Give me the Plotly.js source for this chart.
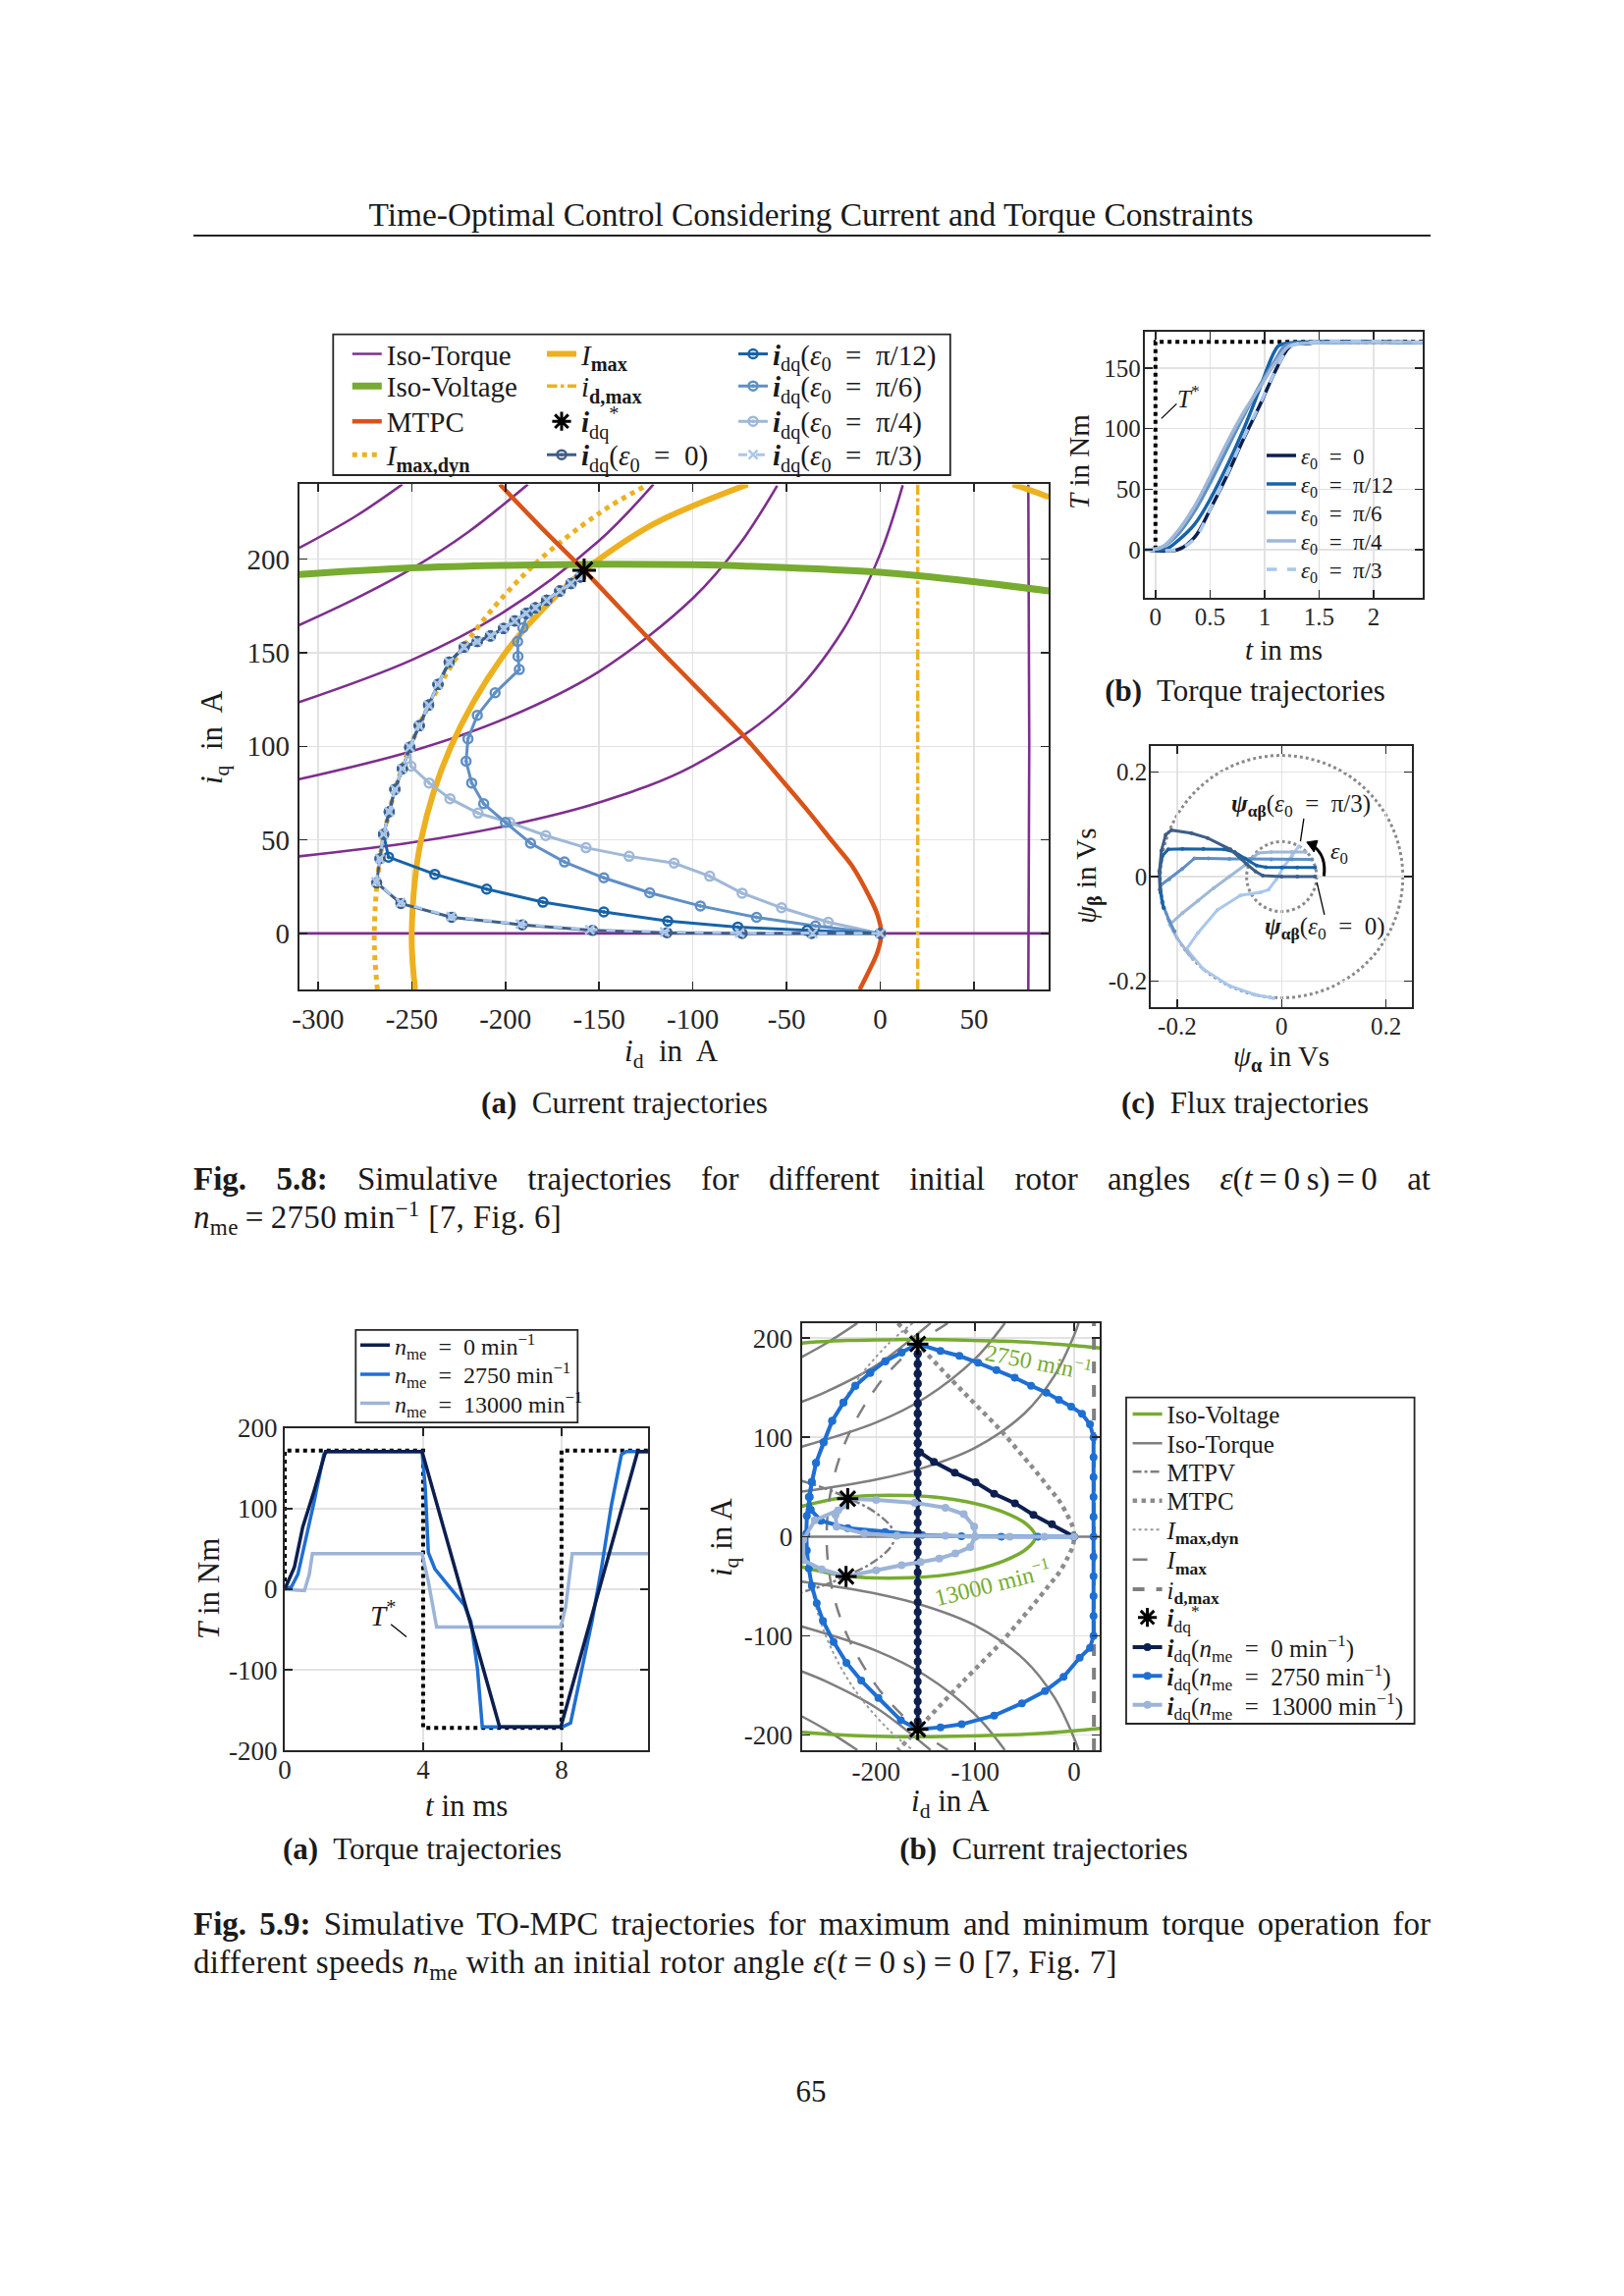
<!DOCTYPE html>
<html>
<head>
<meta charset="utf-8">
<script src="https://cdn.plot.ly/plotly-3.0.1.min.js"></script>
<style>
html,body{margin:0;padding:0;background:#fff;}
#page{position:relative;width:1654px;height:2339px;overflow:hidden;background:#fff;}
#chart{position:absolute;left:0;top:0;width:1654px;height:2339px;}
.t{position:absolute;font-family:"Liberation Serif","Times New Roman",serif;color:#1a1a1a;white-space:nowrap;line-height:1;z-index:5;}
.c{transform:translate(-50%,-50%);}
.l{transform:translate(0,-50%);}
.ls{letter-spacing:0.35px;}
.m{display:inline-block;word-spacing:0;}
sub,sup{font-size:70%;line-height:0;}
</style>
</head>
<body>
<div id="page">
<div id="chart"></div>
<div class="t c" style="left:826px;top:219px;font-size:33.4px;">Time-Optimal Control Considering Current and Torque Constraints</div>
<div style="position:absolute;left:197px;top:239px;width:1260px;height:2px;background:#222;z-index:5;"></div>
<div class="t c" style="left:1268px;top:703px;font-size:31px;"><b>(b)</b>&nbsp; Torque trajectories</div>
<div class="t c" style="left:636px;top:1123px;font-size:31px;"><b>(a)</b>&nbsp; Current trajectories</div>
<div class="t c" style="left:1268px;top:1123px;font-size:31px;"><b>(c)</b>&nbsp; Flux trajectories</div>
<div id="cap1" class="t l" style="left:197px;top:1201px;font-size:33px;"><b>Fig. 5.8:</b> Simulative trajectories for different initial rotor angles <span class="m"><i>ε</i>(<i>t</i>&#8201;=&#8201;0&#8201;s)&#8201;=&#8201;0</span> at</div>
<div class="t l ls" style="left:197px;top:1240px;font-size:33px;"><i>n</i><sub>me</sub>&#8201;=&#8201;2750&#8201;min<sup>−1</sup> [7, Fig. 6]</div>
<div class="t c" style="left:430px;top:1883px;font-size:31px;"><b>(a)</b>&nbsp; Torque trajectories</div>
<div class="t c" style="left:1063px;top:1883px;font-size:31px;"><b>(b)</b>&nbsp; Current trajectories</div>
<div id="cap2" class="t l" style="left:197px;top:1960px;font-size:33px;"><b>Fig. 5.9:</b> Simulative TO-MPC trajectories for maximum and minimum torque operation for</div>
<div class="t l ls" style="left:197px;top:1999px;font-size:33px;">different speeds <i>n</i><sub>me</sub> with an initial rotor angle <span class="m"><i>ε</i>(<i>t</i>&#8201;=&#8201;0&#8201;s)&#8201;=&#8201;0</span> [7, Fig. 7]</div>
<div class="t c" style="left:826px;top:2130px;font-size:31px;">65</div>
</div>
<script>
// ================= DATA =================
// ---- Fig. 5.8(a): current plane at 2750 min^-1 ----
const isoT1_id=[-310,-250,-200,-150,-100,-50,-20,0,12];
const isoT1_iq=[41.2,48.6,57.4,70.0,89.5,124.2,161.9,202.9,239.5];
const isoT2_id=[-310,-250,-200,-150,-100,-75,-55];
const isoT2_iq=[82.4,97.4,114.9,140.0,179.1,208.1,239.2];
const isoT3_id=[-310,-250,-200,-150,-121];
const isoT3_iq=[123.6,146.1,172.3,209.9,240];
const isoT4_id=[-310,-280,-250,-220,-188];
const isoT4_iq=[164.8,178.9,194.9,214.4,240];
const isoT5_id=[-310,-280,-255];
const isoT5_iq=[206,222.9,240];
const isoT0h_id=[-310,90];
const isoT0h_iq=[0,0];
const isoT0v_id=[79,79.5,79];
const isoT0v_iq=[-30,100,240];
const isoV_id=[-310,-250,-200,-150,-100,-50,0,50,90];
const isoV_iq=[191.8,195.3,196.7,197.3,197,195.5,193,188,183];
const mtpc_id=[-203,-180,-158,-123,-100,-73.7,-50,-39,-25,-15,-6,-1.5,0.6,-1.5,-6,-11];
const mtpc_iq=[240,216,194,157,133.5,106.5,79,66,48.5,36,20,10,0,-10,-20,-30];
const imaxL_id=[-248.2,-250,-245,-229,-200,-166,-150,-120,-70.7];
const imaxL_iq=[-30,0,50,100,150,187,200,219.3,240];
const imaxR_id=[70.7,80,90];
const imaxR_iq=[240,236.9,233.2];
const imaxDyn_id=[-268.3,-270,-265.3,-250.8,-223.6,-188,-150,-126.5];
const imaxDyn_iq=[-30,0,50,100,151.3,193.8,224.5,238.5];
const idmax_id=[20,20];
const idmax_iq=[-30,240];
const refA_id=[-158];
const refA_iq=[194];
// common upper part of the trajectories (along I_max,dyn towards the reference)
const upper_id=[-267,-265,-262,-259,-255,-251,-246,-241,-236,-230,-222,-215,-208,-201,-195,-189,-184,-178,-171,-165,-160];
const upper_iq=[40,53,65,77,88,99.5,111,122,133,145,153,156,159,163,167,171,174,178,183,187,190.5];
const tr0_id=[0,-36.7,-73.7,-113.8,-153.5,-191,-228.7,-255.8,-268.7];
const tr0_iq=[0,0,0,0.4,1.6,4.6,8.6,16,27];
const tr12_id=[0,-39,-76,-113.4,-147.5,-180,-210,-237.7,-262.4];
const tr12_iq=[0,1.6,3.4,6.6,11.5,16.7,23.7,31.6,40.8];
const tr6_id=[0,-34.6,-66,-96,-123,-147.5,-168.5,-186.6,-200,-211.6,-218,-221,-220,-215,-205.5,-192.6,-193.3,-193.5,-190.7,-188,-184,-178,-171,-165,-160];
const tr6_iq=[0,4,8.6,14.7,21.7,29.7,38.2,48.2,59.3,69.3,80.4,92,104,116.6,128.6,141,148,156,163.4,171.2,174,178,183,187,190.5];
const tr4_id=[0,-27.7,-52.7,-73.7,-91,-110,-134,-157,-178.5,-197.7,-214.6,-229.6,-240.7,-250.4,-251.3];
const tr4_iq=[0,6,13.7,21.5,30.6,37.6,41.2,45.8,52.3,59.3,64.3,72,80.4,89.4,99.5];
const tr3_id=[0,-36,-75,-115,-155,-192,-229,-256,-269];
const tr3_iq=[0,0,0.3,0.8,2,5,9,16.5,27.5];

// ---- Fig. 5.8(b): torque vs time ----
const tb_ref_t=[0,0,2.45];
const tb_ref_T=[0,172,172];
const tb_e0_t=[-0.1,0.21,0.36,0.51,0.66,0.81,0.955,1.10,1.22,1.28,1.40,1.46,2.45];
const tb_e0_T=[0,0,10.3,34.8,62,92,119,148,167,170.4,170.4,171.5,171.5];
const tb_p12_t=[-0.1,0.09,0.21,0.36,0.51,0.66,0.81,0.955,1.07,1.13,1.22,2.45];
const tb_p12_T=[0,0,7.6,21,43,70,100,133,160,168.8,171,171.5];
const tb_p6_t=[-0.1,0.06,0.21,0.36,0.51,0.66,0.81,0.955,1.10,1.19,1.28,2.45];
const tb_p6_T=[0,2,13,32,56.6,84,111,135.6,157,168.8,170.4,171.5];
const tb_p4_t=[-0.1,0.06,0.21,0.36,0.51,0.66,0.81,0.955,1.10,1.22,1.34,2.45];
const tb_p4_T=[0,2,15.8,36,62,89,113.8,134,154.6,168,170.4,171.5];
const tb_p3_t=[-0.1,0.2,0.36,0.51,0.66,0.81,0.955,1.10,1.22,1.30,2.45];
const tb_p3_T=[0,0,9,35,63,93,120,148,166.5,170.4,171.5];

// ---- Fig. 5.8(c): flux trajectories ----
const fc_e0_a=[0.064,0.03,0,-0.036,-0.05,-0.067,-0.098,-0.142,-0.173,-0.211,-0.222,-0.23,-0.234,-0.233];
const fc_e0_b=[0,0,0,0.002,0.01,0.024,0.052,0.074,0.083,0.089,0.08,0.05,0.01,-0.025];
const fc_p12_a=[0.064,0.03,0,-0.03,-0.048,-0.07,-0.09,-0.11,-0.15,-0.19,-0.217,-0.228,-0.234,-0.232,-0.226];
const fc_p12_b=[0.0175,0.0175,0.0175,0.018,0.021,0.035,0.047,0.052,0.053,0.053,0.052,0.04,0.01,-0.03,-0.06];
const fc_p6_a=[0.058,0.02,-0.02,-0.06,-0.1,-0.14,-0.167,-0.19,-0.215,-0.232,-0.229,-0.215,-0.205];
const fc_p6_b=[0.033,0.033,0.033,0.034,0.034,0.035,0.035,0.015,-0.005,-0.017,-0.05,-0.085,-0.105];
const fc_p4_a=[0.046,0.02,-0.02,-0.045,-0.07,-0.1,-0.13,-0.16,-0.19,-0.214,-0.2,-0.18,-0.17];
const fc_p4_b=[0.047,0.047,0.047,0.045,0.022,0,-0.022,-0.046,-0.07,-0.092,-0.118,-0.145,-0.158];
const fc_p3_a=[0.033,0.02,0.005,-0.01,-0.025,-0.04,-0.079,-0.123,-0.16,-0.182,-0.15,-0.1,-0.05,-0.016];
const fc_p3_b=[0.058,0.04,0.02,-0.005,-0.025,-0.03,-0.036,-0.064,-0.1075,-0.139,-0.177,-0.209,-0.2265,-0.2325];
const fluxLimitBig=0.232, fluxPM=0.067;

// ---- Fig. 5.9(a): torque for different speeds ----
const bl_ref_t=[0,0,4,4,8,8,10.5];
const bl_ref_T=[0,172,172,-172,-172,172,172];
const bl_n0_t=[0,0.28,0.52,0.85,1.18,3.97,6.21,7.98,10.2,10.5];
const bl_n0_T=[0,27.5,77,122,170.7,170.7,-170.7,-170.7,170.7,170.7];
const bl_n2750_t=[0,0.19,0.38,0.57,0.85,1.13,1.23,3.97,4.06,4.15,4.34,4.72,5.19,5.38,5.57,5.71,8.03,8.26,8.5,8.88,9.16,9.44,9.73,9.87,10.5];
const bl_n2750_T=[0,2.7,18.5,54.5,108.6,167,170.7,170.7,126.6,45.5,25.2,5,-19.8,-40,-98.6,-170.7,-170.7,-166,-116.7,-40,27.5,104,167,170.7,170.7];
const bl_n13k_t=[0,0.57,0.71,0.8,3.97,4.15,4.39,7.98,8.12,8.31,10.5];
const bl_n13k_T=[0,-1.8,18.5,44,44,9.5,-47,-47,-22,44,44];

// ---- Fig. 5.9(b): current plane for different speeds ----
const br_isoT1_id=[-275,-200,-150,-100,-50,-20,0,4.5];
const br_isoT1p_iq=[45.3,57.4,70,89.5,124.2,161.9,202.9,215];
const br_isoT1n_iq=[-45.3,-57.4,-70,-89.5,-124.2,-161.9,-202.9,-215];
const br_isoT2_id=[-275,-200,-150,-100,-70];
const br_isoT2p_iq=[90.6,114.9,140,179.1,215];
const br_isoT2n_iq=[-90.6,-114.9,-140,-179.1,-215];
const br_isoT3_id=[-275,-250,-200,-145];
const br_isoT3p_iq=[135.8,146.1,172.3,215];
const br_isoT3n_iq=[-135.8,-146.1,-172.3,-215];
const br_isoT4_id=[-275,-250,-219];
const br_isoT4p_iq=[181,194.9,215];
const br_isoT4n_iq=[-181,-194.9,-215];
const br_isoT0_id=[-275,26];
const br_isoT0_iq=[0,0];
const br_isoV2750_id=[-275,-230,-200,-160,-120,-80,-40,0,26];
const br_isoV2750p_iq=[195,197.5,198,198.5,198,197,195.5,192.5,190];
const br_isoV2750n_iq=[-197,-200,-201,-201.5,-201,-200,-198.5,-195.5,-193];
const br_isoV13k_id=[-275,-230,-165,-109,-71.5,-48,-39,-48,-71.5,-109,-165,-230,-275];
const br_isoV13k_iq=[30.5,39.6,41.3,35.3,24.7,12.4,0,-12.4,-24.7,-35.3,-41.3,-39.6,-30.5];
const br_mtpv_id=[-275,-250,-229,-210,-195,-185,-181,-185,-195,-210,-229,-250,-275];
const br_mtpv_iq=[56,48,39,30,20,10,0,-10,-20,-30,-39,-48,-56];
const br_mtpc_id=[-178,-158,-123,-100,-73.7,-50,-39,-25,-15,-6,-1.5,0,-1.5,-6,-15,-25,-39,-50,-73.7,-100,-123,-158,-178];
const br_mtpc_iq=[215,194,157,133.5,106.5,79,66,48.5,36,20,10,0,-10,-20,-36,-48.5,-66,-79,-106.5,-133.5,-157,-194,-215];
const br_imaxDyn_id=[-163,-188,-224,-251,-265,-270,-265,-251,-224,-188,-163];
const br_imaxDyn_iq=[215,193.8,150.8,99.5,51.6,0,-51.6,-99.5,-150.8,-193.8,-215];
const br_imax_id=[-127.6,-150,-175,-200,-229,-245,-250,-245,-229,-200,-175,-150,-127.6];
const br_imax_iq=[215,200,178.5,150,100,50,0,-50,-100,-150,-178.5,-200,-215];
const br_idmax_id=[20,20];
const br_idmax_iq=[-215,215];
const br_ref_id=[-158,-158,-228.7,-230.4];
const br_ref_iq=[194,-194,38.2,-40.1];
const br_n0_id=[0,-22.4,-41.1,-59.8,-80.8,-99.5,-120.6,-141.6,-155.6,
 -158,-158,-158,-158,-158,-158,-158,-158,-158,-158,-158,-158,
 -158,-158,-158,-158,-158,-158,-158,-158,-158,-158,-158,-158,-158,-158,-158,-158,-158,-158,-158,-158,
 -158,-158,-158,-158,-158,-158,-158,-158,-158,-158,-158,-158,-158,-158,-158,-158,-158,-158,-158];
const br_n0_iq=[0,12.4,21.9,33.6,43.1,54.8,64.3,75.3,84.8,
 84,94,104,114,124,134,144,154,164,174,184,194,
 184,174,164,154,144,134,124,114,104,94,84,74,64,54,44,34,24,14,4,-6,
 -16,-26,-36,-46,-56,-66,-76,-86,-96,-106,-116,-126,-136,-146,-156,-166,-176,-186,-194];
const br_n2750_id=[0,-36.7,-73.7,-113.8,-153.5,-191,-228.7,-255.8,-266,-268,-265,-260.7,-253,-244.4,-233,-221,-206,-190.7,-174.3,-158,
 -135,-115.9,-97,-78.5,-60,-43.5,-28,-15.4,-3,7.9,16,19.6,19.6,19.6,19.6,19.6,19.6,19.6,19.6,19.6,19.6,19.6,16,5.6,-10.7,-29.4,-52.8,-80.8,-113.6,-135,-158,
 -175,-197.7,-215,-230,-243,-253.7,-260,-265,-268,-270,-270.5,-270,-267,-265,-260.7,-253,-244.4,-233,-221,-206,-190.7,-174.3,-158];
const br_n2750_iq=[0,0,0,0.4,1.6,4.6,8.6,16,27,40,55,74.2,95,116.6,135,152,165,176.7,185.5,194,
 187,182,175,167.8,160,152,145,137.8,131,123.7,113,100,80,60,40,20,0,-20,-40,-60,-80,-100,-112,-122,-141.3,-155.5,-167.8,-180.2,-189,-192,-194,
 -185,-162.5,-145,-127,-106,-84.8,-67,-49.5,-32,-14,3,21,40,55,74.2,95,116.6,135,152,165,176.7,185.5,194];
const br_n13k_id=[0,-30,-65,-100,-130,-179,-212,-240,-241,-231,-228.7,
 -200,-161,-130,-111.5,-101,-100,-105,-120,-136.3,-155,-174.3,-200,-230.4,
 -255,-273.6,-273.6,-262,-238.6,-228.7];
const br_n13k_iq=[0,0,0,0,1,1,3,10,22,32,38.2,
 37,34.1,29,22.6,10,0,-10.6,-17,-22.1,-25.5,-28.7,-34,-40.1,
 -33,-23.7,-3.3,16.5,26.4,38.2];

// ================= BUILD =================
const W=1654,H=2339;
const px=v=>v/W, py=v=>1-v/H;
const FONT='Liberation Serif, Times New Roman, serif';
const PURPLE='#7E2F8E',GREEN='#77AC30',ORANGE='#D95319',YELLOW='#EDB120';
const C_E0='#3F5E86',C_P12='#1763A8',C_P6='#5F8FC5',C_P4='#9FB8D7',C_P3='#A9C7EC';
const NAVY='#0C1F4F',BLUE27='#1F6FD2',LIGHT13='#9CB4D8',GRAY='#7F7F7F';
const EQ='\u2002=\u2002';
function cat(){const out=[];for(let i=0;i<arguments.length;i++){if(i>0)out.push(null);out.push(...arguments[i]);}return out;}
function S(x,y,xa,ya,o){return Object.assign({type:'scatter',mode:'lines',x:x,y:y,xaxis:xa,yaxis:ya,hoverinfo:'skip',showlegend:false,connectgaps:false},o);}
const traces=[];
const legSpecs=[];
function leg(tr,tx,ty,size){legSpecs.push([tr,tx,ty,size]);return tr;}
function P(tr){traces.push(tr);return tr;}

// legend grid of Fig 5.8(a)
const LA_X=[393.8,592,787], LA_Y=[360.7,393.3,429.3,463.3], LA_F=29;

// ----- (a) -----
leg(P(S(cat(isoT1_id,isoT2_id,isoT3_id,isoT4_id,isoT5_id,isoT0h_id,isoT0v_id),cat(isoT1_iq,isoT2_iq,isoT3_iq,isoT4_iq,isoT5_iq,isoT0h_iq,isoT0v_iq),'x','y',
 {name:'Iso-Torque',line:{color:PURPLE,width:2.6,shape:'spline'}})),LA_X[0],LA_Y[0],LA_F);
leg(P(S(cat(imaxL_id,imaxR_id),cat(imaxL_iq,imaxR_iq),'x','y',
 {name:'<i>I</i><sub><b>max</b></sub>',line:{color:YELLOW,width:6,shape:'spline'}})),LA_X[1],LA_Y[0],LA_F);
leg(P(S(imaxDyn_id,imaxDyn_iq,'x','y',
 {name:'<i>I</i><sub><b>max,dyn</b></sub>',line:{color:YELLOW,width:5,dash:'dot',shape:'spline'}})),LA_X[0],LA_Y[3],LA_F);
leg(P(S(idmax_id,idmax_iq,'x','y',
 {name:'<i>i</i><sub><b>d,max</b></sub>',line:{color:YELLOW,width:3.5,dash:'dashdot'}})),LA_X[1],LA_Y[1],LA_F);
leg(P(S(isoV_id,isoV_iq,'x','y',
 {name:'Iso-Voltage',line:{color:GREEN,width:7,shape:'spline'}})),LA_X[0],LA_Y[1],LA_F);
leg(P(S(mtpc_id,mtpc_iq,'x','y',
 {name:'MTPC',line:{color:ORANGE,width:4.5,shape:'spline'}})),LA_X[0],LA_Y[2],LA_F);
const trjA=[
 [tr4_id.concat(upper_id.slice(6)),tr4_iq.concat(upper_iq.slice(6)),C_P4,'π/4',2,2,'circle-open-dot','solid'],
 [tr6_id,tr6_iq,C_P6,'π/6',2,1,'circle-open-dot','solid'],
 [tr12_id.concat(upper_id.slice(1)),tr12_iq.concat(upper_iq.slice(1)),C_P12,'π/12',2,0,'circle-open-dot','solid'],
 [tr0_id.concat(upper_id),tr0_iq.concat(upper_iq),C_E0,'0',1,3,'circle-open-dot','solid'],
 [tr3_id.concat(upper_id),tr3_iq.concat(upper_iq),C_P3,'π/3',2,3,'x-thin-open','dash']
];
trjA.forEach(t=>leg(P(S(t[0],t[1],'x','y',{mode:'lines+markers',name:'<b><i>i</i></b><sub>dq</sub>(<i>ε</i><sub>0</sub>'+EQ+t[3]+')',
 line:{color:t[2],width:3,dash:t[7]},marker:{symbol:t[6],size:9,color:t[2],line:{color:t[2],width:2.5}}})),LA_X[t[4]],LA_Y[t[5]],LA_F));
leg(P(S(refA_id,refA_iq,'x','y',{mode:'markers',name:'<b><i>i</i></b><sub>dq</sub><sup>*</sup>',
 marker:{symbol:'asterisk-open',size:20,color:'#000',line:{color:'#000',width:3}}})),LA_X[1],LA_Y[2],LA_F);

// ----- (b) -----
P(S(tb_ref_t,tb_ref_T,'x2','y2',{line:{color:'#000',width:4,dash:'dot'}}));
const LB_Y=[464,493,522,551,580];
[[tb_e0_t,tb_e0_T,NAVY,'0','solid'],[tb_p12_t,tb_p12_T,C_P12,'π/12','solid'],[tb_p6_t,tb_p6_T,C_P6,'π/6','solid'],
 [tb_p4_t,tb_p4_T,C_P4,'π/4','solid'],[tb_p3_t,tb_p3_T,C_P3,'π/3','dash']].forEach((t,i)=>leg(P(S(t[0],t[1],'x2','y2',
 {name:'<i>ε</i><sub>0</sub>'+EQ+t[3],line:{color:t[2],width:3.5,dash:t[4],shape:'spline'}})),1325,LB_Y[i],23));

// ----- (c) -----
[[fc_p3_a,fc_p3_b,C_P3],[fc_p4_a,fc_p4_b,C_P4],[fc_p6_a,fc_p6_b,C_P6],[fc_p12_a,fc_p12_b,C_P12],[fc_e0_a,fc_e0_b,C_E0]].forEach(t=>P(S(t[0],t[1],'x3','y3',
 {mode:'lines+markers',line:{color:t[2],width:3},marker:{size:4,color:t[2]}})));

// ----- 5.9(a) -----
P(S(bl_ref_t,bl_ref_T,'x4','y4',{line:{color:'#000',width:4,dash:'dot'}}));
const LC_Y=[1370.7,1400.3,1429.9];
leg(P(S(bl_n13k_t,bl_n13k_T,'x4','y4',{name:'<i>n</i><sub>me</sub>'+EQ+'13000 min<sup>−1</sup>',line:{color:LIGHT13,width:3.5}})),402,LC_Y[2],24);
leg(P(S(bl_n2750_t,bl_n2750_T,'x4','y4',{name:'<i>n</i><sub>me</sub>'+EQ+'2750 min<sup>−1</sup>',line:{color:BLUE27,width:3.5}})),402,LC_Y[1],24);
leg(P(S(bl_n0_t,bl_n0_T,'x4','y4',{name:'<i>n</i><sub>me</sub>'+EQ+'0 min<sup>−1</sup>',line:{color:NAVY,width:3.5}})),402,LC_Y[0],24);

// ----- 5.9(b) -----
const LD_X=1188.6, LD_Y=[1440.7,1470.4,1499.6,1528.9,1558.6,1588.9,1619.3,1647.9,1678.2,1707.5,1737.1], LD_F=25;
leg(P(S(cat(br_isoT1_id,br_isoT1_id,br_isoT2_id,br_isoT2_id,br_isoT3_id,br_isoT3_id,br_isoT4_id,br_isoT4_id,br_isoT0_id),
 cat(br_isoT1p_iq,br_isoT1n_iq,br_isoT2p_iq,br_isoT2n_iq,br_isoT3p_iq,br_isoT3n_iq,br_isoT4p_iq,br_isoT4n_iq,br_isoT0_iq),'x5','y5',
 {name:'Iso-Torque',line:{color:GRAY,width:2.5,shape:'spline'}})),LD_X,LD_Y[1],LD_F);
leg(P(S(cat(br_isoV2750_id,br_isoV2750_id),cat(br_isoV2750p_iq,br_isoV2750n_iq),'x5','y5',
 {name:'Iso-Voltage',line:{color:GREEN,width:3.5,shape:'spline'}})),LD_X,LD_Y[0],LD_F);
P(S(br_isoV13k_id,br_isoV13k_iq,'x5','y5',{line:{color:GREEN,width:3.5,shape:'spline'}}));
leg(P(S(br_mtpv_id,br_mtpv_iq,'x5','y5',{name:'MTPV',line:{color:GRAY,width:2.5,dash:'dashdot',shape:'spline'}})),LD_X,LD_Y[2],LD_F);
leg(P(S(br_mtpc_id,br_mtpc_iq,'x5','y5',{name:'MTPC',line:{color:'#8C8C8C',width:4.5,dash:'dot',shape:'spline'}})),LD_X,LD_Y[3],LD_F);
leg(P(S(br_imaxDyn_id,br_imaxDyn_iq,'x5','y5',{name:'<i>I</i><sub><b>max,dyn</b></sub>',line:{color:'#9A9A9A',width:2,dash:'dot',shape:'spline'}})),LD_X,LD_Y[4],LD_F);
leg(P(S(br_imax_id,br_imax_iq,'x5','y5',{name:'<i>I</i><sub><b>max</b></sub>',line:{color:GRAY,width:2.5,dash:'longdash',shape:'spline'}})),LD_X,LD_Y[5],LD_F);
leg(P(S(br_idmax_id,br_idmax_iq,'x5','y5',{name:'<i>i</i><sub><b>d,max</b></sub>',line:{color:GRAY,width:4,dash:'dash'}})),LD_X,LD_Y[6],LD_F);
leg(P(S(br_n2750_id,br_n2750_iq,'x5','y5',{mode:'lines+markers',name:'<b><i>i</i></b><sub>dq</sub>(<i>n</i><sub>me</sub>'+EQ+'2750 min<sup>−1</sup>)',
 line:{color:BLUE27,width:4},marker:{size:8,color:BLUE27}})),LD_X,LD_Y[9],LD_F);
leg(P(S(br_n0_id,br_n0_iq,'x5','y5',{mode:'lines+markers',name:'<b><i>i</i></b><sub>dq</sub>(<i>n</i><sub>me</sub>'+EQ+'0 min<sup>−1</sup>)',
 line:{color:NAVY,width:4},marker:{size:8,color:NAVY}})),LD_X,LD_Y[8],LD_F);
leg(P(S(br_n13k_id,br_n13k_iq,'x5','y5',{mode:'lines+markers',name:'<b><i>i</i></b><sub>dq</sub>(<i>n</i><sub>me</sub>'+EQ+'13000 min<sup>−1</sup>)',
 line:{color:LIGHT13,width:4},marker:{size:8,color:LIGHT13}})),LD_X,LD_Y[10],LD_F);
leg(P(S(br_ref_id,br_ref_iq,'x5','y5',{mode:'markers',name:'<b><i>i</i></b><sub>dq</sub><sup>*</sup>',
 marker:{symbol:'asterisk-open',size:18,color:'#000',line:{color:'#000',width:3}}})),LD_X,LD_Y[7],LD_F);

// ----- axes -----
function ax(o){return Object.assign({showline:true,mirror:'ticks',linecolor:'#262626',linewidth:2,ticks:'inside',ticklen:8,tickwidth:1.5,tickcolor:'#262626',
 showgrid:true,gridcolor:'#E2E2E2',gridwidth:1.5,zeroline:false,fixedrange:true,tickmode:'array',ticklabelstandoff:0,
 tickfont:{family:FONT,size:26,color:'#262626'}},o);}
const tf=s=>({family:FONT,size:s,color:'#262626'});
const layout={
 width:W,height:H,margin:{l:0,r:0,t:0,b:0},paper_bgcolor:'#fff',plot_bgcolor:'#fff',showlegend:true,hovermode:false,
 font:{family:FONT,color:'#1a1a1a'},
 xaxis:ax({domain:[px(304.8),px(1068.3)],range:[-310,90],anchor:'y',tickvals:[-300,-250,-200,-150,-100,-50,0,50],ticktext:['-300','-250','-200','-150','-100','-50','0','50'],tickfont:tf(29),ticklabelstandoff:3}),
 yaxis:ax({domain:[py(1008.1),py(493.4)],range:[-30,240],anchor:'x',tickvals:[0,50,100,150,200],ticktext:['0','50','100','150','200'],tickfont:tf(29),ticklabelstandoff:2}),
 xaxis2:ax({domain:[px(1165.7),px(1449)],range:[-0.1,2.45],anchor:'y2',tickvals:[0,0.5,1,1.5,2],ticktext:['0','0.5','1','1.5','2'],tickfont:tf(25),ticklabelstandoff:-4}),
 yaxis2:ax({domain:[py(609),py(338.3)],range:[-40,180],anchor:'x2',tickvals:[0,50,100,150],ticktext:['0','50','100','150'],tickfont:tf(25),ticklabelstandoff:-3}),
 xaxis3:ax({domain:[px(1172.3),px(1438.3)],range:[-0.25,0.25],anchor:'y3',tickvals:[-0.2,0,0.2],ticktext:['-0.2','0','0.2'],tickfont:tf(25),ticklabelstandoff:-4}),
 yaxis3:ax({domain:[py(1026),py(760)],range:[-0.25,0.25],anchor:'x3',tickvals:[-0.2,0,0.2],ticktext:['-0.2','0','0.2'],tickfont:tf(25),ticklabelstandoff:-3}),
 xaxis4:ax({domain:[px(290),px(660)],range:[0,10.5],anchor:'y4',tickvals:[0,4,8],ticktext:['0','4','8'],tickfont:tf(27),ticklabelstandoff:-6}),
 yaxis4:ax({domain:[py(1783.2),py(1454.7)],range:[-200,200],anchor:'x4',tickvals:[-200,-100,0,100,200],ticktext:['-200','-100','0','100','200'],tickfont:tf(27),ticklabelstandoff:0}),
 xaxis5:ax({domain:[px(816.7),px(1120.2)],range:[-275,26],anchor:'y5',tickvals:[-200,-100,0],ticktext:['-200','-100','0'],tickfont:tf(27),ticklabelstandoff:-3}),
 yaxis5:ax({domain:[py(1782.9),py(1347.9)],range:[-215,215],anchor:'x5',tickvals:[-200,-100,0,100,200],ticktext:['-200','-100','0','100','200'],tickfont:tf(27),ticklabelstandoff:2}),
 shapes:[
  {type:'rect',xref:'paper',yref:'paper',x0:px(339.3),x1:px(967.8),y0:py(484),y1:py(340.7),line:{color:'#262626',width:1.8},fillcolor:'rgba(0,0,0,0)'},
  {type:'rect',xref:'paper',yref:'paper',x0:px(362.3),x1:px(588.3),y0:py(1449.1),y1:py(1354.8),line:{color:'#262626',width:1.8},fillcolor:'#fff'},
  {type:'rect',xref:'paper',yref:'paper',x0:px(1147),x1:px(1440.6),y0:py(1756),y1:py(1423.6),line:{color:'#262626',width:1.8},fillcolor:'#fff'},
  {type:'line',xref:'x2',yref:'y2',x0:0.194,y0:120.6,x1:0.054,y1:108.4,line:{color:'#000',width:1.3}},
  {type:'circle',xref:'x3',yref:'y3',x0:-fluxLimitBig,x1:fluxLimitBig,y0:-fluxLimitBig,y1:fluxLimitBig,line:{color:'#8A8A8A',width:3,dash:'dot'},layer:'below'},
  {type:'circle',xref:'x3',yref:'y3',x0:-fluxPM,x1:fluxPM,y0:-fluxPM,y1:fluxPM,line:{color:'#8A8A8A',width:3,dash:'dot'},layer:'below'},
  {type:'line',xref:'x3',yref:'y3',x0:0.0425,y0:0.111,x1:0.036,y1:0.0675,line:{color:'#000',width:1.3}},
  {type:'line',xref:'x3',yref:'y3',x0:0.082,y0:-0.073,x1:0.0675,y1:-0.011,line:{color:'#000',width:1.3}},
  {type:'path',xref:'x3',yref:'y3',path:'M 0.081 0.001 Q 0.086 0.04 0.061 0.058',line:{color:'#000',width:3}},
  {type:'path',xref:'x3',yref:'y3',path:'M 0.048 0.066 L 0.069 0.069 L 0.062 0.047 Z',line:{color:'#000',width:1},fillcolor:'#000'},
  {type:'line',xref:'x4',yref:'y4',x0:3.07,y0:-43.7,x1:3.52,y1:-59,line:{color:'#000',width:1.3}}
 ],
 annotations:[]
};
// one legend per entry, so every entry sits where the reference puts it
legSpecs.forEach((s,i)=>{
 const id=i===0?'legend':'legend'+(i+1);
 s[0].legend=id; s[0].showlegend=true;
 layout[id]={x:px(s[1]-40),y:py(s[2]),xanchor:'left',yanchor:'middle',bgcolor:'rgba(0,0,0,0)',borderwidth:0,
  font:{family:FONT,size:s[3],color:'#1a1a1a'},itemwidth:30,tracegroupgap:0};
});
function A(x,y,text,size,o){return Object.assign({xref:'paper',yref:'paper',x:px(x),y:py(y),text:text,showarrow:false,xanchor:'center',yanchor:'middle',font:{family:FONT,size:size,color:'#1a1a1a'}},o);}
const N='\u00A0';
layout.annotations.push(
 A(684,1073,'<i>i</i><sub>d</sub>'+N+' in'+N+' A',31),
 A(218,751,'<i>i</i><sub>q</sub>'+N+' in'+N+' A',31,{textangle:-90}),
 A(1307,662,'<i>t</i> in ms',29),
 A(1099,471,'<i>T</i> in Nm',29,{textangle:-90}),
 A(1305,1078,'<i>ψ</i><sub><b>α</b></sub> in Vs',29),
 A(1108,893,'<i>ψ</i><sub><b>β</b></sub> in Vs',29,{textangle:-90}),
 A(475,1839,'<i>t</i> in ms',31),
 A(212,1619,'<i>T</i> in Nm',31,{textangle:-90}),
 A(968,1837,'<i>i</i><sub>d</sub> in A',31),
 A(737,1566,'<i>i</i><sub>q</sub> in A',31,{textangle:-90}),
 {xref:'x2',yref:'y2',x:0.3,y:127,text:'<i>T</i><sup>*</sup>',showarrow:false,font:{family:FONT,size:25,color:'#1a1a1a'}},
 {xref:'x3',yref:'y3',x:0.0375,y:0.136,text:'<b><i>ψ</i></b><sub><b>αβ</b></sub>(<i>ε</i><sub>0</sub>'+EQ+'π/3)',showarrow:false,font:{family:FONT,size:25,color:'#1a1a1a'}},
 {xref:'x3',yref:'y3',x:0.083,y:-0.098,text:'<b><i>ψ</i></b><sub><b>αβ</b></sub>(<i>ε</i><sub>0</sub>'+EQ+'0)',showarrow:false,font:{family:FONT,size:25,color:'#1a1a1a'}},
 {xref:'x3',yref:'y3',x:0.11,y:0.046,text:'<i>ε</i><sub>0</sub>',showarrow:false,font:{family:FONT,size:24,color:'#1a1a1a'}},
 {xref:'x4',yref:'y4',x:2.83,y:-31,text:'<i>T</i><sup>*</sup>',showarrow:false,font:{family:FONT,size:29,color:'#1a1a1a'}},
 {xref:'x5',yref:'y5',x:-36,y:177,text:'2750 min<sup>−1</sup>',textangle:11,showarrow:false,font:{family:FONT,size:24,color:GREEN}},
 {xref:'x5',yref:'y5',x:-83,y:-46,text:'13000 min<sup>−1</sup>',textangle:-14,showarrow:false,font:{family:FONT,size:24,color:GREEN}}
);
Plotly.newPlot('chart',traces,layout,{staticPlot:true,displayModeBar:false});

// justify first caption lines to the text width
function justify(id,target){
 const el=document.getElementById(id); if(!el) return;
 el.style.wordSpacing='0px';
 const w=el.getBoundingClientRect().width;
 let n=0;
 el.childNodes.forEach(nd=>{ if(nd.nodeType===1 && nd.classList.contains('m')) return; n+=(nd.textContent.match(/ /g)||[]).length; });
 if(n>0) el.style.wordSpacing=((target-w)/n)+'px';
}
function doJ(){justify('cap1',1260);justify('cap2',1260);}
doJ();
if(document.fonts&&document.fonts.ready) document.fonts.ready.then(doJ);
</script>
</body>
</html>
